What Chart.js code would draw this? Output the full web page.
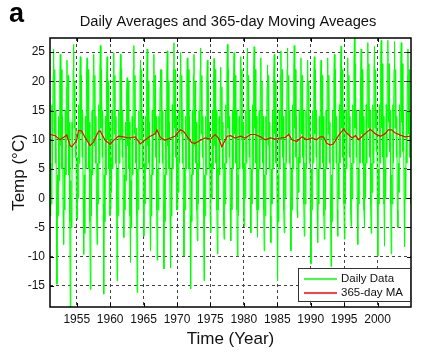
<!DOCTYPE html>
<html>
<head>
<meta charset="utf-8">
<script src="https://cdn.jsdelivr.net/npm/chart.js@4.4.1/dist/chart.umd.min.js"></script>
<style>
html,body{margin:0;padding:0;background:#fff;}
#wrap{width:427px;height:357px;}
</style>
</head>
<body>
<div id="wrap"><canvas id="c" width="427" height="357"></canvas></div>
<script>
// ---- data ----
const years = [1951,1952,1953,1954,1955,1956,1957,1958,1959,1960,1961,1962,1963,1964,1965,1966,1967,1968,1969,1970,
  1971,1972,1973,1974,1975,1976,1977,1978,1979,1980,1981,1982,1983,1984,1985,1986,1987,1988,1989,1990,
  1991,1992,1993,1994,1995,1996,1997,1998,1999,2000,2001,2002,2003,2004];
// fraction of the year at which each sampled value sits (Jan..Dec)
const monthOffsets = [0.04,0.12,0.20,0.29,0.37,0.46,0.54,0.62,0.71,0.79,0.87,0.96];
const dailyTemp = [
  [-3,6,-1,16,5,21,25.5,11,22,6,15,-1],
  [-14.7,4,-3,14,3,20,24.6,9,22,5,14,-2],
  [-7.9,5,-2,15,4,19,23.6,10,21,4,13,-4],
  [-18.6,3,-5,13,5,22,26.3,12,20,7,12,-3],
  [-3.6,7,0,16,6,21,24.2,11,21,7,15,0],
  [-9.6,4,-6,14,5,20,24.0,10,22,5,13,-4],
  [-15.6,5,-3,15,4,21,24.6,9,21,6,14,-2],
  [-7.9,6,-1,16,6,22,26.1,12,22,7,15,-1],
  [-16.4,4,-4,14,4,20,24.2,10,20,5,13,-3],
  [-1.9,7,1,15,5,21,24.9,11,21,6,14,-1],
  [-14.1,5,-3,15,6,21,24.6,10,22,7,15,-2],
  [-6.7,4,-2,13,3,18,20.6,9,20,5,13,-3],
  [-11.0,3,-5,14,4,22,26.1,11,21,6,12,-3],
  [-16.1,5,-2,15,5,20,23.6,10,22,5,14,-1],
  [-6.5,6,-1,14,5,21,25.5,9,20,6,13,-3],
  [-9.0,4,-3,15,4,20,24.6,11,21,7,14,-2],
  [-10.6,5,-2,14,6,19,22.0,10,22,6,15,-1],
  [-12.1,4,-4,15,4,21,25.2,9,20,5,13,-3],
  [-11.9,5,-3,16,5,22,26.6,12,22,7,14,-2],
  [-1.9,7,1,15,6,21,24.9,11,21,6,15,-1],
  [-9.9,5,-2,14,5,20,24.0,10,22,5,14,-3],
  [-15.5,4,-4,15,4,21,24.6,9,20,6,13,-2],
  [-7.3,6,-1,15,5,22,25.7,11,21,7,14,-1],
  [-14.1,4,-3,14,4,20,23.6,10,20,5,13,-3],
  [-5.9,6,0,15,5,20,23.9,9,22,6,15,-2],
  [-9.5,5,-2,14,4,19,22.4,10,19,5,13,-4],
  [-7.0,6,-1,16,6,22,26.3,12,22,7,14,-1],
  [-7.3,5,-2,15,5,21,24.9,11,21,6,15,-2],
  [-9.9,4,-3,14,5,20,24.2,10,22,5,13,-3],
  [-4.8,6,0,15,6,22,25.7,11,21,7,15,-1],
  [-5.9,5,-1,16,5,22,25.9,12,22,6,14,-2],
  [-6.7,5,-2,15,5,20,24.0,10,20,6,14,-2],
  [-9.0,4,-3,14,4,19,22.8,9,21,5,13,-3],
  [-7.6,5,-1,15,5,21,24.6,11,20,6,14,-1],
  [-14.1,4,-4,15,5,21,25.2,10,22,7,14,-2],
  [-5.9,6,0,15,6,22,25.7,11,21,6,15,-1],
  [-9.0,5,-2,16,5,22,26.1,12,22,7,14,-2],
  [-3.3,7,1,15,6,20,24.0,11,21,7,15,-1],
  [-6.5,6,-1,15,5,20,23.6,10,20,6,14,-2],
  [-11.2,5,-2,15,6,21,24.2,11,22,7,15,-1],
  [-7.6,5,-1,14,5,20,23.6,10,21,6,14,-3],
  [-7.0,5,-2,15,5,20,24.0,11,21,6,13,-2],
  [-11.7,4,-4,15,5,21,24.6,10,22,6,14,-2],
  [-6.5,6,0,16,6,22,26.0,12,22,7,15,-1],
  [-7.0,5,-1,15,5,20,24.0,11,21,7,14,-2],
  [-4.8,6,0,16,6,23,27.4,12,23,7,15,-1],
  [-7.9,5,-1,15,6,21,25.5,11,22,6,14,-2],
  [-5.0,6,0,16,6,22,26.6,12,23,7,15,-1],
  [-6.0,6,1,16,6,22,26.0,12,22,8,15,0],
  [-9.9,5,-1,16,6,23,27.0,12,23,7,14,-1],
  [-8.2,5,0,16,7,23,27.0,13,23,8,15,-1],
  [-9.5,4,-1,16,6,22,26.8,12,22,7,14,-2],
  [-5.0,6,1,16,7,23,26.6,13,23,8,15,0],
  [-8.3,5,0,15,6,21,25.5,11,22,7,14,-1]
];
// 365-day moving average (time, value)
const maTime = [1951.0,1951.75,1952.5,1953.0,1953.5,1954.0,1954.25,1955.0,1955.25,1955.75,1956.25,1957.0,1957.5,1958.25,1958.5,1959.25,1960.0,1960.5,1961.25,1962.0,
  1962.75,1963.75,1964.5,1965.25,1966.0,1966.75,1967.0,1967.5,1968.2,1969.0,1969.7,1970.5,1971.0,1971.5,1972.2,1972.7,1973.5,1974.2,1975.0,1975.7,
  1976.2,1976.7,1977.5,1978.0,1978.7,1979.5,1980.2,1981.0,1981.7,1982.5,1983.2,1984.0,1984.7,1985.5,1986.2,1986.7,1987.2,1987.9,1988.7,1989.4,
  1990.2,1990.9,1991.4,1991.9,1992.4,1992.9,1993.4,1994.2,1994.9,1995.4,1996.2,1996.7,1997.2,1997.7,1998.4,1998.9,1999.7,2000.4,2001.1,2001.6,
  2002.1,2002.6,2003.4,2004.1,2004.9];
const maTemp = [10.9,10.7,10.0,10.4,10.8,9.0,8.8,9.9,11.6,11.5,10.4,9.0,9.6,11.4,11.5,9.9,9.2,9.9,10.6,10.5,
  10.3,10.5,9.3,10.0,10.6,11.0,11.7,10.4,9.9,10.3,10.6,11.7,11.4,10.6,9.5,9.4,9.9,10.3,10.1,10.9,
  10.3,8.8,10.6,10.7,10.3,10.6,10.3,10.9,10.9,10.5,10.0,10.3,10.1,10.3,10.4,10.9,10.0,9.7,10.5,10.0,
  10.3,10.0,10.5,10.5,9.4,9.1,9.3,10.8,11.8,11.1,10.3,10.7,10.0,10.6,11.3,11.8,11.0,10.6,11.0,11.7,
  11.7,11.2,10.8,10.5,10.6];
const xTicks = [1955,1960,1965,1970,1975,1980,1985,1990,1995,2000];
const yTicks = [-15,-10,-5,0,5,10,15,20,25];
const seriesNames = ['Daily Data','365-day MA'];
const titleText = 'Daily Averages and 365-day Moving Aveages';
const panelLabel = 'a';
const xTitle = 'Time (Year)';
const yTitle = 'Temp (\u00B0C)';

// ---- build datasets ----
const dailyPoints = [];
years.forEach((yr, i) => {
  dailyTemp[i].forEach((v, m) => dailyPoints.push({x: yr + monthOffsets[m], y: v}));
});
const maPoints = maTime.map((t, i) => ({x: t, y: maTemp[i]}));

const FONT = "'Liberation Sans', Arial, Helvetica, sans-serif";
const GREEN = '#00ff00';
const RED = '#ff0000';

const decor = {
  id: 'decor',
  beforeDraw(chart) {
    const ctx = chart.ctx;
    ctx.save();
    ctx.fillStyle = '#fff';
    ctx.fillRect(0, 0, chart.width, chart.height);
    ctx.restore();
  },
  afterDraw(chart) {
    const ctx = chart.ctx;
    const a = chart.chartArea;
    const xs = chart.scales.x, ys = chart.scales.y;
    ctx.save();
    ctx.setLineDash([]);
    // tick marks inside the box
    ctx.strokeStyle = '#000';
    ctx.lineWidth = 1;
    ctx.beginPath();
    xTicks.forEach(v => {
      const px = Math.round(xs.getPixelForValue(v)) + 0.5;
      ctx.moveTo(px, a.bottom); ctx.lineTo(px, a.bottom - 4);
      ctx.moveTo(px, a.top); ctx.lineTo(px, a.top + 4);
    });
    yTicks.forEach(v => {
      const py = Math.round(ys.getPixelForValue(v)) + 0.5;
      ctx.moveTo(a.left, py); ctx.lineTo(a.left + 4, py);
      ctx.moveTo(a.right, py); ctx.lineTo(a.right - 4, py);
    });
    ctx.stroke();
    // box
    ctx.lineWidth = 1.5;
    ctx.strokeRect(a.left, a.top, a.right - a.left, a.bottom - a.top);

    // legend
    const lx = 298, ly = 268, lw = 112, lh = 33;
    ctx.fillStyle = '#fff';
    ctx.fillRect(lx, ly, lw, lh);
    ctx.strokeStyle = '#333';
    ctx.lineWidth = 1;
    ctx.strokeRect(lx + 0.5, ly + 0.5, lw, lh);
    const items = [[seriesNames[0], GREEN, ly + 11], [seriesNames[1], RED, ly + 25]];
    ctx.font = '11.5px ' + FONT;
    ctx.textBaseline = 'middle';
    ctx.textAlign = 'left';
    items.forEach(function (it) {
      ctx.beginPath();
      ctx.strokeStyle = it[1];
      ctx.lineWidth = 1.5;
      ctx.moveTo(lx + 6, it[2]);
      ctx.lineTo(lx + 39, it[2]);
      ctx.stroke();
      ctx.fillStyle = '#111';
      ctx.fillText(it[0], lx + 43, it[2]);
    });

    // title and panel label
    ctx.fillStyle = '#111';
    ctx.textAlign = 'center';
    ctx.textBaseline = 'middle';
    ctx.font = '14.7px ' + FONT;
    ctx.fillText(titleText, 228, 22);
    ctx.textAlign = 'left';
    ctx.textBaseline = 'alphabetic';
    ctx.font = 'bold 27px ' + FONT;
    ctx.fillStyle = '#000';
    ctx.fillText(panelLabel, 9, 22);
    ctx.restore();
  }
};

new Chart(document.getElementById('c'), {
  type: 'line',
  data: {
    datasets: [
      {label: seriesNames[1], data: maPoints, borderColor: RED, borderWidth: 1.2, pointRadius: 0, tension: 0, fill: false, order: 0},
      {label: seriesNames[0], data: dailyPoints, borderColor: GREEN, borderWidth: 1, pointRadius: 0, tension: 0, fill: false, order: 1}
    ]
  },
  options: {
    responsive: false,
    animation: false,
    devicePixelRatio: 1,
    layout: {padding: {top: 38, right: 16, left: 0, bottom: 0}},
    plugins: {legend: {display: false}, title: {display: false}, tooltip: {enabled: false}},
    scales: {
      x: {
        type: 'linear', min: 1951, max: 2005,
        afterBuildTicks: s => { s.ticks = xTicks.map(v => ({value: v})); },
        afterFit: s => { s.height = 50; },
        grid: {color: '#444', lineWidth: 1, drawTicks: false},
        border: {display: false, dash: [3, 3]},
        ticks: {color: '#111', font: {family: FONT, size: 12}, padding: 5, maxRotation: 0, autoSkip: false, callback: v => String(v)},
        title: {display: true, text: xTitle, color: '#111', font: {family: FONT, size: 17}, padding: {top: 0, bottom: 7}}
      },
      y: {
        type: 'linear', min: -18.6, max: 27.4,
        afterBuildTicks: s => { s.ticks = yTicks.map(v => ({value: v})); },
        afterFit: s => { s.width = 50; },
        grid: {color: '#444', lineWidth: 1, drawTicks: false},
        border: {display: false, dash: [3, 3]},
        ticks: {color: '#111', font: {family: FONT, size: 12}, padding: 5, autoSkip: false, callback: v => String(v)},
        title: {display: true, text: yTitle, color: '#111', font: {family: FONT, size: 17}, padding: {top: 9, bottom: 0}}
      }
    }
  },
  plugins: [decor]
});
</script>
</body>
</html>
